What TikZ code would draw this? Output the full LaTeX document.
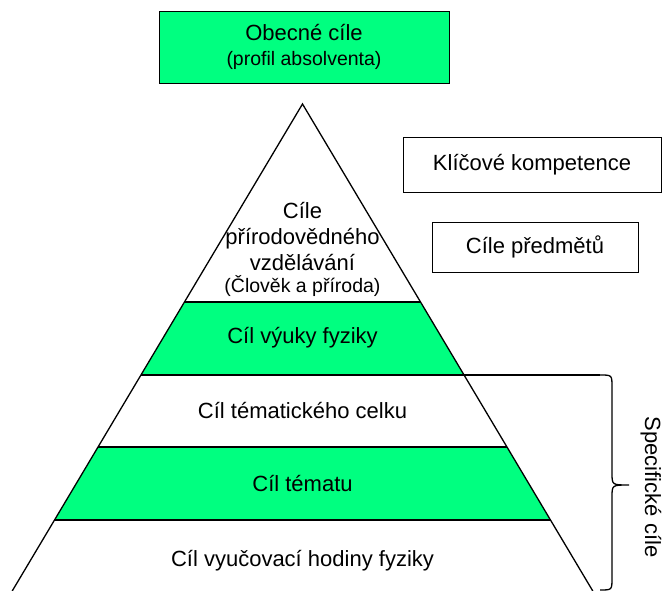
\documentclass[tikz,border=0pt]{standalone}
\usepackage{fontspec}
\setmainfont{Liberation Sans}
\definecolor{zelena}{RGB}{0,255,128}
\newcommand\malypismo{\fontsize{19.5}{23}\selectfont}

\begin{document}
\begin{tikzpicture}[x=1pt,y=-1pt,
    popis/.style={font=\fontsize{22}{26}\selectfont, align=center},
    ramec/.style={draw, line width=0.9pt, popis, inner sep=0pt},
    cara/.style={line width=1.3pt}]
  \useasboundingbox (0,0) rectangle (662,591);
  % zelene pasy
  \fill[zelena] (184.5,302) -- (420.5,302) -- (464,375) -- (141,375) -- cycle;
  \fill[zelena] (98.1,447) -- (506.9,447) -- (550.4,520) -- (54.6,520) -- cycle;
  % pyramida
  \draw [cara] (12.2,591) -- (302.5,104) -- (592.8,591);
  \draw [cara] (184.5,302) -- (420.5,302);
  \draw [cara] (141,375) -- (600,375);
  \draw [cara] (98.1,447) -- (506.9,447);
  \draw [cara] (54.6,520) -- (550.4,520);
  % zavorka
  \draw [cara] (600,375) .. controls (612,375) .. (612,387) -- (612,473)
               .. controls (612,485) .. (629,485)
               .. controls (612,485) .. (612,497) -- (612,578)
               .. controls (612,590) .. (600,590);
  % ramecky nahore
  \node [ramec, fill=zelena, minimum width=290, minimum height=72] (obecne) at (304,47)
        {Obecné cíle\\[-1pt]{\malypismo (profil absolventa)}};
  \node [ramec, minimum width=258, minimum height=55] (klicove) at (532,164.5) {Klíčové kompetence};
  \node [ramec, minimum width=206, minimum height=50] (predmety) at (535,247) {Cíle předmětů};
  % popisy pater
  \node [popis] (prirod) at (302.5,249) {Cíle\\přírodovědného\\vzdělávání\\[-4pt]{\malypismo (Člověk a příroda)}};
  \node [popis] (vyuka) at (302.5,338) {Cíl výuky fyziky};
  \node [popis] (celek) at (302.5,411) {Cíl tématického celku};
  \node [popis] (tema) at (302.5,484) {Cíl tématu};
  \node [popis] (hodina) at (302.5,561) {Cíl vyučovací hodiny fyziky};
  \node [popis, rotate=-90] (specif) at (651,487) {Specifické cíle};
\end{tikzpicture}
\end{document}
